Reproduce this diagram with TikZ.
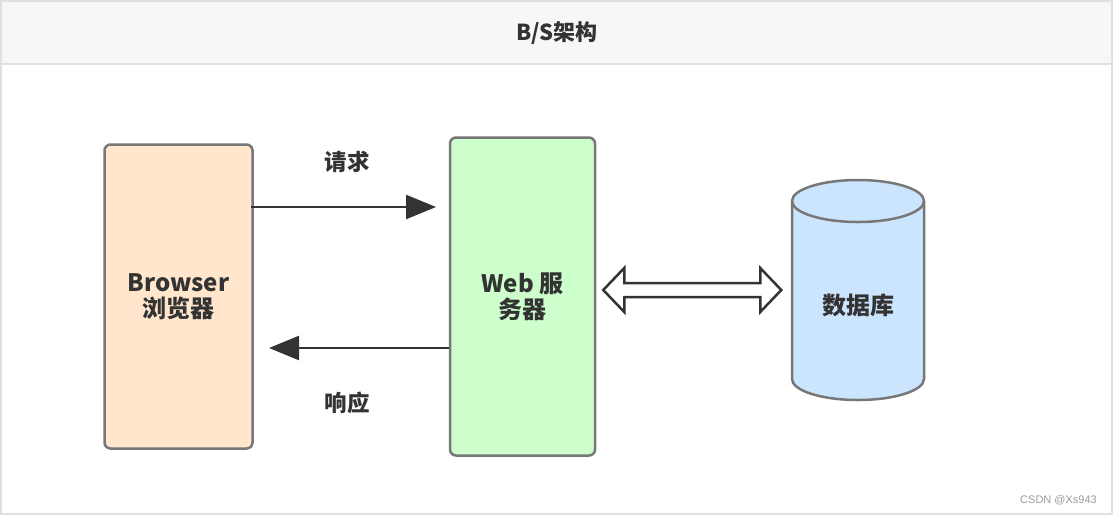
\documentclass[tikz,border=0pt]{standalone}
\usepackage{fontspec}
\setmainfont{Noto Sans CJK SC}
\newfontfamily\wmfont{Liberation Sans}
\usetikzlibrary{calc,arrows.meta}
\definecolor{frameC}{HTML}{DDE1E6}
\definecolor{headC}{HTML}{F7F7F7}
\definecolor{boxLine}{HTML}{777777}
\definecolor{txt}{HTML}{333333}
\definecolor{brFill}{HTML}{FFE6CC}
\definecolor{webFill}{HTML}{CCFFCC}
\definecolor{dbFill}{HTML}{CCE5FF}
\tikzset{
  box/.style={draw=boxLine, line width=2.5pt, rounded corners=6pt, inner sep=0pt, text=txt, align=center, font=\fontsize{24}{31}\selectfont\bfseries},
  lbl/.style={text=txt, font=\fontsize{22.5}{26}\selectfont\bfseries, inner sep=0pt},
  flow/.style={draw=txt, line width=2.5pt, -{Triangle[length=30pt,width=24pt]}},
  blockarrow/.style={draw=txt, line width=2.5pt, fill=white, line join=miter}
}
\begin{document}
\begin{tikzpicture}[x=1pt,y=-1pt]
\useasboundingbox (0,0) rectangle (1113,515);
% frame and header
\fill[headC] (1,1) rectangle (1112,64);
\draw[frameC, line width=2pt] (1,1) rectangle (1112,514);
\draw[frameC, line width=2pt] (1,64) -- (1112,64);
\node[text=txt, font=\fontsize{22}{25}\selectfont\bfseries, inner sep=0pt] (title) at (557,33) {B/S架构};
% boxes
\node[box, fill=brFill, minimum width=148pt, minimum height=304pt] (br) at (178.5,296.5) {Browser\\[-5pt]浏览器};
\node[box, fill=webFill, minimum width=145pt, minimum height=318pt] (web) at (522.5,296.5) {Web 服\\[-5pt]务器};
% database cylinder
\coordinate (dbT) at (858,201);
\coordinate (dbB) at (858,379);
\fill[dbFill] ($(dbT)+(-66,0)$) -- ($(dbB)+(-66,0)$) arc[start angle=180, end angle=360, x radius=66pt, y radius=21pt] -- ($(dbT)+(66,0)$) arc[start angle=0, end angle=180, x radius=66pt, y radius=21pt] -- cycle;
\draw[boxLine, line width=2.5pt] ($(dbT)+(-66,0)$) -- ($(dbB)+(-66,0)$) arc[start angle=180, end angle=360, x radius=66pt, y radius=21pt] -- ($(dbT)+(66,0)$);
\draw[boxLine, line width=2.5pt] (dbT) ellipse[x radius=66pt, y radius=21pt];
\node[lbl, font=\fontsize{24}{26}\selectfont\bfseries] (db) at (858,305) {数据库};
% request / response arrows
\coordinate (reqEnd) at (436,207);
\coordinate (resEnd) at (269,348);
\draw[flow] ($(br.east |- reqEnd)+(-3,0)$) -- (reqEnd);
\draw[flow] (web.west |- resEnd) -- (resEnd);
\node[lbl] (req) at (347,162) {请求};
\node[lbl] (res) at (347,403) {响应};
% double hollow arrow
\coordinate (L) at ($(web.east)+(7,-6.5)$);
\coordinate (R) at ($(L)+(178,0)$);
\draw[blockarrow] (L) -- ($(L)+(21,-22)$) -- ($(L)+(21,-7)$) -- ($(R)+(-21,-7)$) -- ($(R)+(-21,-22)$) -- (R) -- ($(R)+(-21,22)$) -- ($(R)+(-21,7)$) -- ($(L)+(21,7)$) -- ($(L)+(21,22)$) -- cycle;
% watermark
\node[text=gray!80, font=\wmfont\fontsize{11}{13}\selectfont, anchor=east, inner sep=0pt] (wm) at (1097,500) {CSDN @Xs943};
\end{tikzpicture}
\end{document}
